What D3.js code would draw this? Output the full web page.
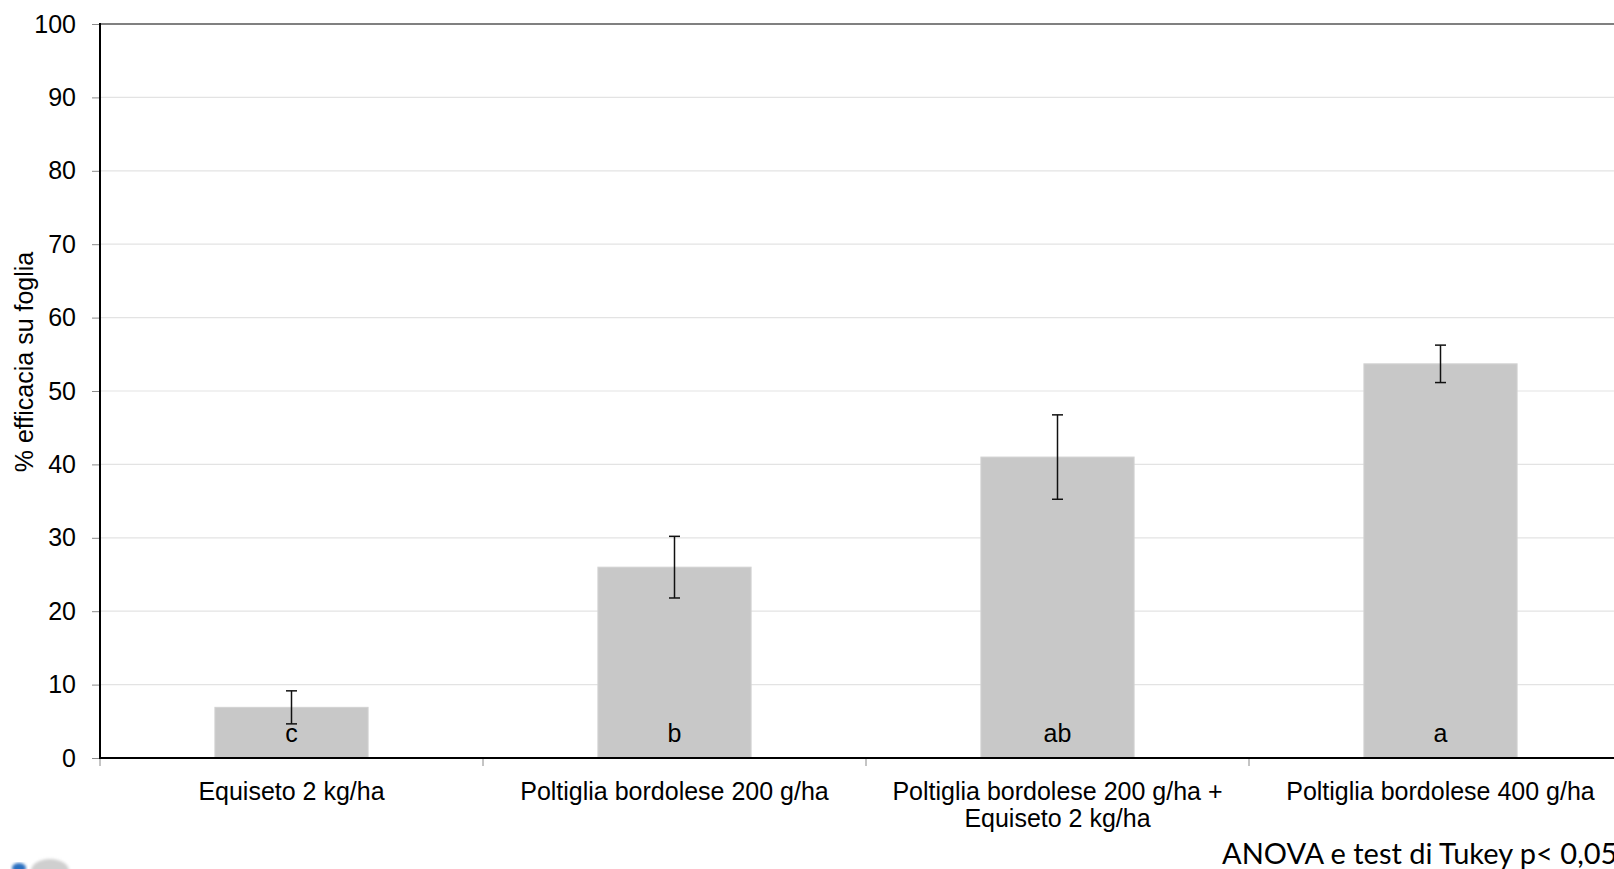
<!DOCTYPE html>
<html>
<head>
<meta charset="utf-8">
<script src="https://cdn.jsdelivr.net/npm/d3@7/dist/d3.min.js"></script>
<style>
  html, body { margin: 0; padding: 0; background: #fff; }
  svg { display: block; }
  text { fill: #000; }
</style>
</head>
<body>
<svg id="chart" width="1614" height="869"></svg>
<script>
// Treatments (x categories), each possibly split across two lines
const categories = [
  ["Equiseto 2 kg/ha"],
  ["Poltiglia bordolese 200 g/ha"],
  ["Poltiglia bordolese 200 g/ha +", "Equiseto 2 kg/ha"],
  ["Poltiglia bordolese 400 g/ha"]
];
// Mean leaf efficacy (%) and its error half-width
const efficacy = [6.9, 26.0, 41.0, 53.7];
const errors = [2.25, 4.2, 5.75, 2.55];
// Tukey grouping letters
const groups = ["c", "b", "ab", "a"];
const yTicks = [0, 10, 20, 30, 40, 50, 60, 70, 80, 90, 100];

const sans = "'Liberation Sans', Arial, sans-serif";
const svg = d3.select("#chart");
const plotLeft = 100, plotRight = 1632, plotTop = 24, plotBottom = 758;

const keys = categories.map((c, i) => "k" + i);
const x = d3.scaleBand().domain(keys).range([plotLeft, plotRight])
  .paddingInner(0.6).paddingOuter(0.3);
const y = d3.scaleLinear().domain([0, 100]).range([plotBottom, plotTop]);
const step = x.step();

// horizontal gridlines
svg.append("g").selectAll("line")
  .data(yTicks.filter(t => t > 0 && t < 100))
  .join("line")
  .attr("x1", plotLeft).attr("x2", 1614)
  .attr("y1", d => y(d)).attr("y2", d => y(d))
  .attr("stroke", "#e3e3e3").attr("stroke-width", 1.2);

// plot border on top
svg.append("line")
  .attr("x1", plotLeft).attr("x2", 1614)
  .attr("y1", y(100)).attr("y2", y(100))
  .attr("stroke", "#808080").attr("stroke-width", 2);

// bars
svg.append("g").selectAll("rect")
  .data(efficacy)
  .join("rect")
  .attr("x", (d, i) => x(keys[i]))
  .attr("width", x.bandwidth())
  .attr("y", d => y(d))
  .attr("height", d => y(0) - y(d))
  .attr("fill", "#c8c8c8")
  .attr("stroke", "#d2d2d2").attr("stroke-width", 1);

// error bars
const eb = svg.append("g").attr("stroke", "#111").attr("stroke-width", 1.5);
efficacy.forEach((v, i) => {
  const cx = x(keys[i]) + x.bandwidth() / 2;
  const hi = y(v + errors[i]), lo = y(v - errors[i]);
  eb.append("line").attr("x1", cx).attr("x2", cx).attr("y1", hi).attr("y2", lo);
  eb.append("line").attr("x1", cx - 5.5).attr("x2", cx + 5.5).attr("y1", hi).attr("y2", hi);
  eb.append("line").attr("x1", cx - 5.5).attr("x2", cx + 5.5).attr("y1", lo).attr("y2", lo);
});

// group letters inside bars
svg.append("g").selectAll("text")
  .data(groups)
  .join("text")
  .attr("x", (d, i) => x(keys[i]) + x.bandwidth() / 2)
  .attr("y", y(0) - 16)
  .attr("text-anchor", "middle")
  .style("font-family", sans)
  .style("font-size", "25px")
  .text(d => d);

// y axis
const yAxis = svg.append("g")
  .attr("transform", `translate(${plotLeft},0)`)
  .call(d3.axisLeft(y).tickValues(yTicks).tickSize(8).tickPadding(16));
yAxis.select(".domain").remove();
yAxis.selectAll(".tick line").attr("stroke", "#8a8a8a");
yAxis.selectAll(".tick text")
  .style("font-family", sans)
  .style("font-size", "25px")
  .attr("fill", "#000");

// category boundary ticks below the x axis
svg.append("g").selectAll("line")
  .data(keys)
  .join("line")
  .attr("x1", d => x(d) - step * 0.3).attr("x2", d => x(d) - step * 0.3)
  .attr("y1", plotBottom).attr("y2", plotBottom + 8)
  .attr("stroke", "#8a8a8a");

// axis lines
svg.append("line").attr("x1", plotLeft).attr("x2", plotLeft)
  .attr("y1", plotTop - 1).attr("y2", plotBottom + 1)
  .attr("stroke", "#000").attr("stroke-width", 2);
svg.append("line").attr("x1", plotLeft - 1).attr("x2", 1614)
  .attr("y1", plotBottom).attr("y2", plotBottom)
  .attr("stroke", "#000").attr("stroke-width", 2);

// category labels
const cl = svg.append("g").selectAll("text")
  .data(categories)
  .join("text")
  .attr("x", (d, i) => x(keys[i]) + x.bandwidth() / 2)
  .attr("y", 800)
  .attr("text-anchor", "middle")
  .style("font-family", sans)
  .style("font-size", "25px");
cl.selectAll("tspan")
  .data(d => d)
  .join("tspan")
  .attr("x", function () { return this.parentNode.getAttribute("x"); })
  .attr("dy", (d, j) => j === 0 ? 0 : 27)
  .text(d => d);

// y axis title
svg.append("text")
  .attr("transform", "translate(33,362) rotate(-90)")
  .attr("text-anchor", "middle")
  .style("font-family", sans)
  .style("font-size", "25px")
  .text("% efficacia su foglia");

// statistics note
svg.append("text")
  .attr("x", 1222).attr("y", 864)
  .style("font-family", "Lato, 'Open Sans', sans-serif")
  .style("font-size", "29px")
  .text("ANOVA e test di Tukey p< 0,05");

// logo fragment at the lower-left corner
const defs = svg.append("defs");
defs.append("filter").attr("id", "soft")
  .append("feGaussianBlur").attr("stdDeviation", 1.5);
svg.append("ellipse").attr("cx", 19).attr("cy", 868).attr("rx", 7).attr("ry", 5)
  .attr("fill", "#2a6fc0").attr("filter", "url(#soft)");
svg.append("ellipse").attr("cx", 50).attr("cy", 871).attr("rx", 19).attr("ry", 12)
  .attr("fill", "#cfcfcf").attr("filter", "url(#soft)");
</script>
</body>
</html>
